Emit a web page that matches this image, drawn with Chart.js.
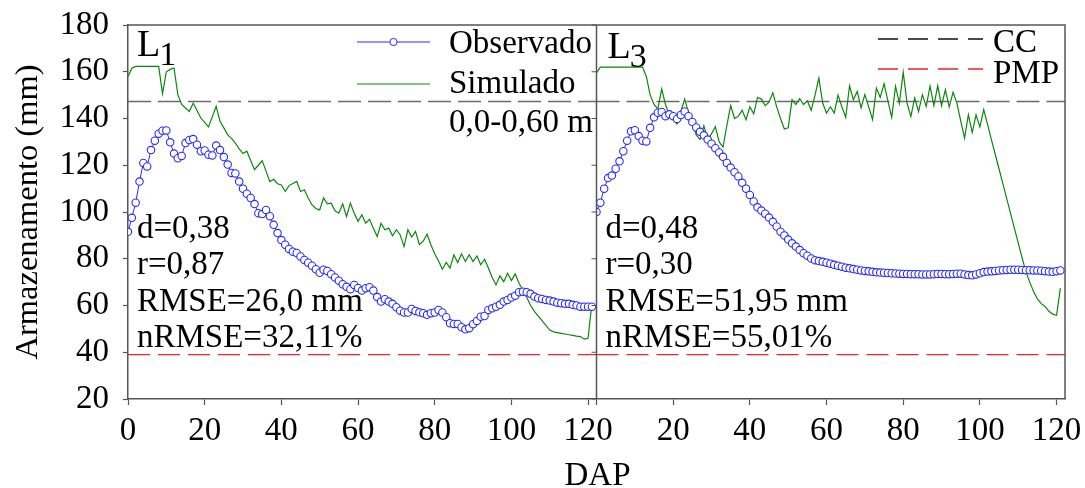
<!DOCTYPE html>
<html>
<head>
<meta charset="utf-8">
<title>Armazenamento - L1 e L3</title>
<script src="https://cdn.jsdelivr.net/npm/chart.js@4.4.1/dist/chart.umd.min.js"></script>
<style>
  html, body { margin: 0; padding: 0; background: #fff; }
  #wrap { width: 1085px; height: 488px; }
</style>
</head>
<body>
<div id="wrap"><canvas id="chart" width="1085" height="488"></canvas></div>
<script>
// Days after planting (DAP), same for both panels
const dap = [0,1,2,3,4,5,6,7,8,9,10,11,12,13,14,15,16,17,18,19,20,21,22,23,24,25,26,27,28,29,
  30,31,32,33,34,35,36,37,38,39,40,41,42,43,44,45,46,47,48,49,50,51,52,53,54,55,56,57,58,59,
  60,61,62,63,64,65,66,67,68,69,70,71,72,73,74,75,76,77,78,79,80,81,82,83,84,85,86,87,88,89,
  90,91,92,93,94,95,96,97,98,99,100,101,102,103,104,105,106,107,108,109,110,111,112,113,114,115,
  116,117,118,119,120,121];

// L1 panel
const obsL1 = [91.5,97.5,104,113,121,119.5,126.5,130.5,133.5,134.8,
  134.9,129.8,125,123,124,129.5,130.8,131.2,128.8,126,
  126.3,124.5,124.2,128.4,126.5,123.5,120.3,116.7,116.5,113,
  110,107.8,106,103.4,99.5,99.1,100.9,98.2,94.5,91,
  88,86,84.2,83,82.5,81,79.5,78.3,77,75.5,
  74,75.3,74.8,73.4,72,70.6,69.1,68,67,68.8,
  67.5,66.4,67.4,67.8,66.4,63.6,61.7,62.7,61.7,60.7,
  59.3,57.8,57,57,58.5,57.7,57.1,56.7,56,56.7,
  57,58.1,57,55,52.4,52.1,52.1,50.7,49.8,50.3,
  52,53.4,55.2,55.5,58.1,58.8,59.5,60.3,61.7,62.4,
  63.4,64.2,65.7,65.9,65.7,65,63.8,63.1,62.8,62.4,
  62.1,61.7,61.2,61,60.7,60.7,60.3,60,59.5,59.5,
  59.5,59.5];
const simL1 = [158,161.5,162.3,162.3,162.3,162.3,162.3,162.3,162.3,150.6,
  160,161,161.6,150.2,146,144.5,143,146.6,143.4,140.2,
  138.3,136.4,140.8,145.2,138.8,136,133,131.5,129.5,127,
  125,126,122,118.1,120,122,117.5,113,114,112.1,
  111.6,108.8,111.3,112.2,113.1,108.8,109.5,106,103,101.5,
  100.9,106,103.5,103.8,100.5,99.5,103.5,98,103.8,99.5,
  96,98.8,95.2,96.9,93,89.5,95.2,92.4,93.1,89.8,
  92.4,90.2,85.2,92.4,89.3,91.7,86,87.5,90.5,86,
  82.1,79,75.5,78.4,76,81.7,78.4,82.1,78.8,81.7,
  78.8,81.2,77.4,79.8,76,72,68.8,72.7,70.2,73.8,
  70.7,73.5,69.5,66.5,63.5,60,57.5,55.5,53.5,51.5,
  49.5,48.7,48.4,48.1,47.8,47.5,47.2,46.9,46.7,45.6,
  46,61];

// L3 panel
const obsL3 = [100,104,110,114.5,115.6,118.5,121.7,126,130.5,134.5,
  135,132.5,130.5,130.2,136,140.5,142.5,142.8,141,141.8,
  141,139.8,141.5,143,141,138.5,136.2,134.3,132.8,131,
  129.2,127.3,125.5,123.6,121,119,117,115.2,112.5,110,
  107.3,104.5,102,100.6,99.3,97.6,95.8,93.8,91.6,90,
  88.2,86.6,85.2,83.7,82.4,81.3,80.1,79.4,79,78.7,
  78.3,77.9,77.4,77,76.6,76.2,75.9,75.6,75.3,75,
  74.8,74.6,74.4,74.2,74.1,74,73.9,73.8,73.7,73.6,
  73.5,73.5,73.4,73.4,73.4,73.3,73.3,73.3,73.4,73.5,
  73.5,73.4,73.4,73.5,73.6,73.6,73.3,73,72.9,73.3,
  73.8,74.3,74.5,74.6,74.8,75,75.1,75.2,75.3,75.3,
  75.3,75.2,75.1,75.1,75,75,74.9,74.7,74.5,74.4,
  74.7,75];
const simL3 = [159.5,162,162,162,162,162,162,162,162,162,
  162,162,162,158,150,146,144.1,152.6,146,141.5,
  139.5,137.6,143,148.3,142.5,139,133,131,136.9,131,
  133.5,136.5,130,127.8,137,145.5,140,141,143.5,139.5,
  145,142,149,148.3,145.5,147,151,145,140,135.5,
  136,148,146,148.5,146,147.6,143.5,150,157.3,146.6,
  142.3,145,142.3,150,145,140.5,154,148,151.6,144.5,
  150.2,145,139.5,153,149,154.9,147.5,140.5,153.8,146.5,
  159.8,146.6,140.9,148.8,143,150.2,145.2,153.8,145.5,154,
  145.5,152.3,144.9,151.2,146.6,139,131.6,141.6,134,141.6,
  136.4,143.8,137.5,131,124.7,118.4,112,105.7,99.4,93,
  86.8,80.5,74.5,70,66,62.8,60.8,59.6,57.5,56.3,
  55.8,67.4];

// Reference levels (field capacity / wilting point)
const ccLevel = 147.3;
const pmpLevel = 39;

const xTicks = [0, 20, 40, 60, 80, 100, 120];
const yTicks = [20, 40, 60, 80, 100, 120, 140, 160, 180];
const xMax = 122.2;

const statsL1 = ['d=0,38', 'r=0,87', 'RMSE=26,0 mm', 'nRMSE=32,11%'];
const statsL3 = ['d=0,48', 'r=0,30', 'RMSE=51,95 mm', 'nRMSE=55,01%'];

const FONT = '"Liberation Serif", "Times New Roman", serif';
const AXIS = '#555';
const BLUE = '#2a2aff';
const GREEN = '#0c870c';
const RED = '#e8262b';
const GRAY = '#6a6a6a';

const pts = ys => dap.map((d, i) => ({x: d, y: ys[i]}));
const flat = v => [{x: 0, y: v}, {x: xMax, y: v}];

const obsStyle = { borderColor: BLUE, borderWidth: 1, pointRadius: 3.7, pointBorderWidth: 1.1,
  pointBackgroundColor: '#fff', pointBorderColor: BLUE };
const simStyle = { borderColor: GREEN, borderWidth: 1.2, pointRadius: 0 };
const ccStyle = { borderColor: GRAY, borderWidth: 1.6, borderDash: [23, 7], pointRadius: 0 };
const pmpStyle = { borderColor: RED, borderWidth: 1.2, borderDash: [22, 8], pointRadius: 0 };

// keep the plot box fixed: no extra room for overflowing tick labels
const noPad = s => { s.paddingTop = 0; s.paddingBottom = 0; s.paddingLeft = 0; s.paddingRight = 0; };

function xAxis(hideZero) {
    return {
        type: 'linear', position: 'bottom', stack: 'dap', stackWeight: 1,
        min: 0, max: xMax,
        afterBuildTicks: s => { s.ticks = xTicks.map(v => ({value: v})); },
        afterFit: s => { s.height = 89; noPad(s); },
        grid: { drawOnChartArea: false, tickLength: 6, tickColor: AXIS, tickWidth: 1.2 },
        border: { color: AXIS, width: 1.5 },
        ticks: {
            font: { family: FONT, size: 33 }, color: '#000', padding: 7,
            maxRotation: 0, autoSkip: false,
            callback: v => (hideZero && v === 0) ? '' : v
        }
    };
}

// frame, divider, panel labels and legends
const decor = {
    id: 'decor',
    afterDatasetsDraw(chart) {
        const {ctx, chartArea: a, scales: {x, x2, y}} = chart;
        ctx.save();
        ctx.strokeStyle = AXIS;
        ctx.lineWidth = 1.5;
        ctx.beginPath();
        ctx.moveTo(a.left, a.top); ctx.lineTo(a.right, a.top); ctx.lineTo(a.right, a.bottom);
        const xd = x2.left;
        ctx.moveTo(xd, a.top); ctx.lineTo(xd, a.bottom);
        ctx.stroke();
        ctx.lineWidth = 1.2;
        ctx.beginPath();
        yTicks.forEach(v => {
            const py = y.getPixelForValue(v);
            ctx.moveTo(xd - 5, py); ctx.lineTo(xd, py);
        });
        ctx.stroke();

        ctx.fillStyle = '#000';
        ctx.textBaseline = 'alphabetic';
        ctx.textAlign = 'left';

        // panel names
        const l1 = x.left + 9, l3 = xd + 11;
        ctx.font = `38px ${FONT}`;
        ctx.fillText('L', l1, 56);
        ctx.fillText('L', l3, 58);
        const lw = ctx.measureText('L').width;
        ctx.font = `34px ${FONT}`;
        ctx.fillText('1', l1 + lw - 1, 65);
        ctx.fillText('3', l3 + lw - 1, 67);

        // statistics
        ctx.font = `33px ${FONT}`;
        const rows = [238, 274, 310.5, 347];
        statsL1.forEach((t, i) => ctx.fillText(t, l1, rows[i]));
        statsL3.forEach((t, i) => ctx.fillText(t, l3 - 2, rows[i]));

        // legend: series
        const lx0 = x.left + 229, lx1 = x.left + 302, tx = x.left + 321;
        ctx.lineWidth = 1;
        ctx.strokeStyle = BLUE;
        ctx.beginPath(); ctx.moveTo(lx0, 42); ctx.lineTo(lx1, 42); ctx.stroke();
        ctx.beginPath(); ctx.arc((lx0 + lx1) / 2, 42, 3.6, 0, Math.PI * 2);
        ctx.fillStyle = '#fff'; ctx.fill(); ctx.stroke();
        ctx.strokeStyle = GREEN;
        ctx.lineWidth = 1.2;
        ctx.beginPath(); ctx.moveTo(lx0, 84); ctx.lineTo(lx1, 84); ctx.stroke();
        ctx.fillStyle = '#000';
        ctx.fillText('Observado', tx, 53);
        ctx.fillText('Simulado', tx, 93);
        ctx.fillText('0,0-0,60 m', tx, 132);

        // legend: reference levels
        const rx0 = a.right - 187, rx1 = a.right - 82, rtx = a.right - 72;
        ctx.lineWidth = 1.5;
        ctx.setLineDash([20, 10]);
        ctx.strokeStyle = '#111';
        ctx.beginPath(); ctx.moveTo(rx0, 39); ctx.lineTo(rx1, 39); ctx.stroke();
        ctx.strokeStyle = RED;
        ctx.beginPath(); ctx.moveTo(rx0, 69); ctx.lineTo(rx1, 69); ctx.stroke();
        ctx.setLineDash([]);
        ctx.fillText('CC', rtx, 52);
        ctx.fillText('PMP', rtx, 83);

        // x title spanning both panels
        ctx.textAlign = 'center';
        ctx.fillText('DAP', xd + 1, 485);
        ctx.restore();
    }
};

new Chart(document.getElementById('chart'), {
    type: 'line',
    data: {
        datasets: [
            { label: 'Observado L1', xAxisID: 'x', data: pts(obsL1), ...obsStyle },
            { label: 'Observado L3', xAxisID: 'x2', data: pts(obsL3), ...obsStyle },
            { label: 'Simulado L1', xAxisID: 'x', data: pts(simL1), ...simStyle },
            { label: 'Simulado L3', xAxisID: 'x2', data: pts(simL3), ...simStyle },
            { label: 'CC L1', xAxisID: 'x', data: flat(ccLevel), ...ccStyle },
            { label: 'CC L3', xAxisID: 'x2', data: flat(ccLevel), ...ccStyle },
            { label: 'PMP L1', xAxisID: 'x', data: flat(pmpLevel), ...pmpStyle },
            { label: 'PMP L3', xAxisID: 'x2', data: flat(pmpLevel), ...pmpStyle }
        ]
    },
    options: {
        responsive: false,
        animation: false,
        devicePixelRatio: 1,
        layout: { padding: { top: 25, right: 20, left: 0, bottom: 0 } },
        plugins: { legend: { display: false }, tooltip: { enabled: false } },
        scales: {
            x: xAxis(false),
            x2: xAxis(true),
            y: {
                type: 'linear', position: 'left', min: 20, max: 180,
                afterBuildTicks: s => { s.ticks = yTicks.map(v => ({value: v})); },
                afterFit: s => { s.width = 128; noPad(s); },
                grid: { drawOnChartArea: false, tickLength: 5, tickColor: AXIS, tickWidth: 1.2 },
                border: { color: AXIS, width: 1.5 },
                ticks: { font: { family: FONT, size: 33 }, color: '#000', padding: 14 },
                title: { display: true, text: 'Armazenamento (mm)', color: '#000',
                    font: { family: FONT, size: 32.5 }, padding: { top: 9, bottom: 0 } }
            }
        }
    },
    plugins: [decor]
});
</script>
</body>
</html>
